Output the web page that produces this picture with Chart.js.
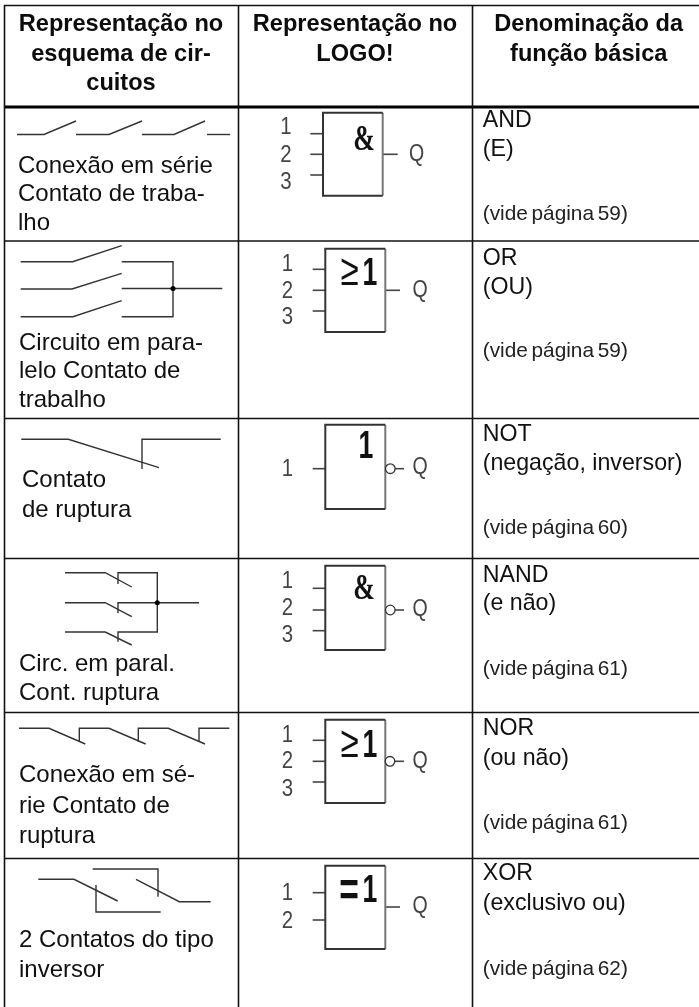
<!DOCTYPE html>
<html lang="pt">
<head>
<meta charset="utf-8">
<title>Funções básicas LOGO!</title>
<script src="https://cdn.jsdelivr.net/npm/chart.js@4"></script>
<style>
  html, body { margin: 0; padding: 0; background: #fff; }
  canvas { display: block; }
</style>
</head>
<body>
<canvas id="logoTable" width="699" height="1007"></canvas>
<script>
// Every drawing is a polyline, in image pixels
const tableThin = [
  [[4, 5.5], [699, 5.5]],
  [[4, 241], [699, 241]],
  [[4, 418.5], [699, 418.5]],
  [[4, 558.5], [699, 558.5]],
  [[4, 712.5], [699, 712.5]],
  [[4, 858.5], [699, 858.5]],
  [[4.5, 5], [4.5, 1007]],
  [[238.5, 5], [238.5, 1007]],
  [[472.5, 5], [472.5, 1007]],
];
const tableThick = [[[4, 107], [699, 107]]];

const contactWires = [
  // serie, trabalho
  [[17, 134.5], [44, 134.5], [76, 121]],
  [[76, 134.5], [109, 134.5], [142, 121]],
  [[142, 134.5], [174, 134.5], [205, 121]],
  [[207, 134.5], [230, 134.5]],
  // paralelo, trabalho
  [[20.7, 261.7], [72.7, 261.7], [121.7, 245.7]],
  [[20.7, 289], [72, 289], [121.7, 273.3]],
  [[20.7, 316.7], [73, 316.7], [121.7, 300.7]],
  [[121.7, 261.7], [173, 261.7], [173, 316.7], [121.7, 316.7]],
  [[121.7, 288.5], [222.3, 288.5]],
  // ruptura
  [[21.3, 439.3], [68.3, 439.3], [159, 467.7]],
  [[142, 469], [142, 439.3], [220.7, 439.3]],
  // paralelo, ruptura
  [[65, 572.7], [105.3, 572.7], [131.7, 587]],
  [[118, 584], [118, 572.7], [157.3, 572.7], [157.3, 632], [118, 632], [118, 641.7]],
  [[65, 602.7], [105.3, 602.7], [131.7, 616.7]],
  [[118, 613.3], [118, 602.7], [199, 602.7]],
  [[65, 632], [105.3, 632], [131.7, 645]],
  // serie, ruptura
  [[19, 728.3], [49, 728.3], [85.3, 744]],
  [[79.3, 742], [79.3, 728.3], [109, 728.3], [145.7, 744]],
  [[138.3, 742], [138.3, 728.3], [168.3, 728.3], [205, 744]],
  [[199, 742], [199, 728.3], [229.3, 728.3]],
  // inversor
  [[38.3, 879.3], [74, 879.3], [117.7, 901]],
  [[96, 885], [96, 912], [160.7, 912]],
  [[92.7, 869], [158, 869], [158, 896.7]],
  [[136, 879.3], [179.3, 901.7], [210.7, 901.7]],
];
const junctionDots = [[173, 288.5], [157.3, 602.7]];

const blockDark = [
  [[382.7, 112.7], [323, 112.7], [323, 195.7], [382.7, 195.7]],
  [[385.3, 248.7], [325.3, 248.7], [325.3, 332], [385.3, 332]],
  [[385.3, 424.7], [325.3, 424.7], [325.3, 509], [385.3, 509]],
  [[385.3, 565.7], [325.3, 565.7], [325.3, 650], [385.3, 650]],
  [[385.3, 719.7], [325.3, 719.7], [325.3, 803], [385.3, 803]],
  [[385.3, 865.7], [325.3, 865.7], [325.3, 949], [385.3, 949]],
];
const blockLight = [
  [[382.7, 112.7], [382.7, 195.7]],
  [[385.3, 248.7], [385.3, 332]],
  [[385.3, 424.7], [385.3, 509]],
  [[385.3, 565.7], [385.3, 650]],
  [[385.3, 719.7], [385.3, 803]],
  [[385.3, 865.7], [385.3, 949]],
];
const blockPins = [
  [[310.3, 133.7], [323, 133.7]], [[310.3, 154.3], [323, 154.3]], [[310.3, 175], [323, 175]],
  [[382.7, 154.3], [397.7, 154.3]],
  [[312.7, 269.3], [325.3, 269.3]], [[312.7, 290.3], [325.3, 290.3]], [[312.7, 311], [325.3, 311]],
  [[385.3, 290.3], [400, 290.3]],
  [[312.7, 468.7], [325.3, 468.7]],
  [[395, 468.7], [404, 468.7]],
  [[312.7, 588.3], [325.3, 588.3]], [[312.7, 610], [325.3, 610]], [[312.7, 630.7], [325.3, 630.7]],
  [[395, 610], [404, 610]],
  [[312.7, 740.3], [325.3, 740.3]], [[312.7, 761.3], [325.3, 761.3]], [[312.7, 782], [325.3, 782]],
  [[395, 761.3], [404, 761.3]],
  [[312.7, 892.7], [325.3, 892.7]], [[312.7, 920], [325.3, 920]],
  [[385.3, 907], [400, 907]],
];
const negationBubbles = [[390.3, 468.7], [390.3, 610], [390, 761.3]];

// Text
const headerText = ["Representação no", "esquema de cir-", "cuitos", "Representação no", "LOGO!", "Denominação da", "função básica"];
const headerX = [121, 121, 121, 355, 355, 588.7, 588.7];
const headerY = [31, 60.5, 90, 31, 61, 31, 61];

const circuitText = [
  "Conexão em série", "Contato de traba-", "lho",
  "Circuito em para-", "lelo Contato de", "trabalho",
  "Contato", "de ruptura",
  "Circ. em paral.", "Cont. ruptura",
  "Conexão em sé-", "rie Contato de", "ruptura",
  "2 Contatos do tipo", "inversor",
];
const circuitX = [18, 18, 18, 19, 19, 19, 22, 22, 19, 19, 19, 19, 19, 19, 19];
const circuitY = [172.7, 201, 230, 350, 378.3, 406.7, 487.3, 516.7, 671, 700, 782.3, 813, 843, 946.7, 976.7];

const functionText = [
  "AND", "(E)", "OR", "(OU)", "NOT", "(negação, inversor)",
  "NAND", "(e não)", "NOR", "(ou não)", "XOR", "(exclusivo ou)",
];
const functionY = [126.7, 156, 265, 294, 440.7, 470, 581.7, 610, 735.3, 764.7, 880.3, 910];
const pageText = ["(vide página 59)", "(vide página 59)", "(vide página 60)", "(vide página 61)", "(vide página 61)", "(vide página 62)"];
const pageY = [220, 356.7, 534, 675, 829.3, 975.3];

const pinText = ["1", "2", "3", "1", "2", "3", "1", "1", "2", "3", "1", "2", "3", "1", "2"];
const pinX = [286, 286, 286, 287.3, 287.3, 287.3, 287.3, 287.3, 287.3, 287.3, 287.3, 287.3, 287.3, 287.3, 287.3];
const pinY = [127.7, 155, 182, 264, 291, 317.7, 469, 581, 608, 635.7, 735, 761.7, 789, 893, 921];
const outputX = [416.7, 420, 420, 420, 420, 420];
const outputY = [155, 291, 467.7, 610, 761.7, 907];
const symbolText = ["&", "≥", "1", "1", "&", "≥", "1", "=", "1"];
const symbolX = [364, 349.5, 370, 366, 364, 349.5, 370, 349, 370];
const symbolY = [150, 285, 285, 458, 599, 757, 757, 906, 901.7];

const toPoints = (line) => line.map(([x, y]) => ({ x, y }));

const lineSets = (lines, color, width) =>
  lines.map((line) => ({
    data: toPoints(line),
    showLine: true,
    borderColor: color,
    borderWidth: width,
    pointRadius: 0,
    fill: false,
    tension: 0,
    order: 2,
  }));

const sans = '"Liberation Sans", Arial, sans-serif';
const symbolFonts = {
  "&": ['bold 36px "Liberation Serif", serif', 0.72],
  "≥": ["44px " + sans, 0.75],
  "1": ["bold 38px " + sans, 0.7],
  "=": ["bold 48px " + sans, 0.7],
};

const textPlugin = {
  id: "tableText",
  afterDatasetsDraw(chart) {
    const { ctx, scales } = chart;
    const put = (text, x, y, font, color, align, base, squeeze, gap) => {
      ctx.save();
      ctx.font = font;
      ctx.fillStyle = color;
      ctx.textAlign = align;
      ctx.textBaseline = base;
      ctx.wordSpacing = gap || "0px";
      ctx.translate(scales.x.getPixelForValue(x), scales.y.getPixelForValue(y));
      ctx.scale(squeeze, 1);
      ctx.fillText(text, 0, 0);
      ctx.restore();
    };
    headerText.forEach((t, i) => put(t, headerX[i], headerY[i], "bold 23.6px " + sans, "#0c0c0c", "center", "alphabetic", 1));
    circuitText.forEach((t, i) => put(t, circuitX[i], circuitY[i], "24px " + sans, "#111", "left", "alphabetic", 1));
    functionText.forEach((t, i) => put(t, 482.7, functionY[i], "23.2px " + sans, "#111", "left", "alphabetic", 1));
    pageText.forEach((t, i) => put(t, 482.7, pageY[i], "20.8px " + sans, "#222", "left", "alphabetic", 1, "-2px"));
    pinText.forEach((t, i) => put(t, pinX[i], pinY[i], "24px " + sans, "#444", "center", "middle", 0.85));
    outputY.forEach((y, i) => put("Q", outputX[i], y, "23px " + sans, "#444", "center", "middle", 0.85));
    symbolText.forEach((t, i) => {
      const [font, squeeze] = symbolFonts[t];
      put(t, symbolX[i], symbolY[i], font, "#111", "center", "alphabetic", squeeze);
    });
  },
};

new Chart(document.getElementById("logoTable").getContext("2d"), {
  type: "scatter",
  data: {
    datasets: [
      ...lineSets(tableThin, "#111", 1.6),
      ...lineSets(tableThick, "#000", 3),
      ...lineSets(contactWires, "#333", 1.4),
      ...lineSets(blockDark, "#333", 2),
      ...lineSets(blockLight, "#777", 2),
      ...lineSets(blockPins, "#444", 1.6),
      {
        data: toPoints(junctionDots),
        pointRadius: 2.5,
        pointBackgroundColor: "#000",
        pointBorderWidth: 0,
        order: 1,
      },
      {
        data: toPoints(negationBubbles),
        pointRadius: 4.8,
        pointBackgroundColor: "#fff",
        pointBorderColor: "#333",
        pointBorderWidth: 1.3,
        order: 0,
      },
    ],
  },
  options: {
    responsive: false,
    animation: false,
    layout: { padding: 0, autoPadding: false },
    plugins: { legend: { display: false }, tooltip: { enabled: false } },
    scales: {
      x: { type: "linear", min: 0, max: 699, display: false },
      y: { type: "linear", min: 0, max: 1007, reverse: true, display: false },
    },
  },
  plugins: [textPlugin],
});
</script>
</body>
</html>
